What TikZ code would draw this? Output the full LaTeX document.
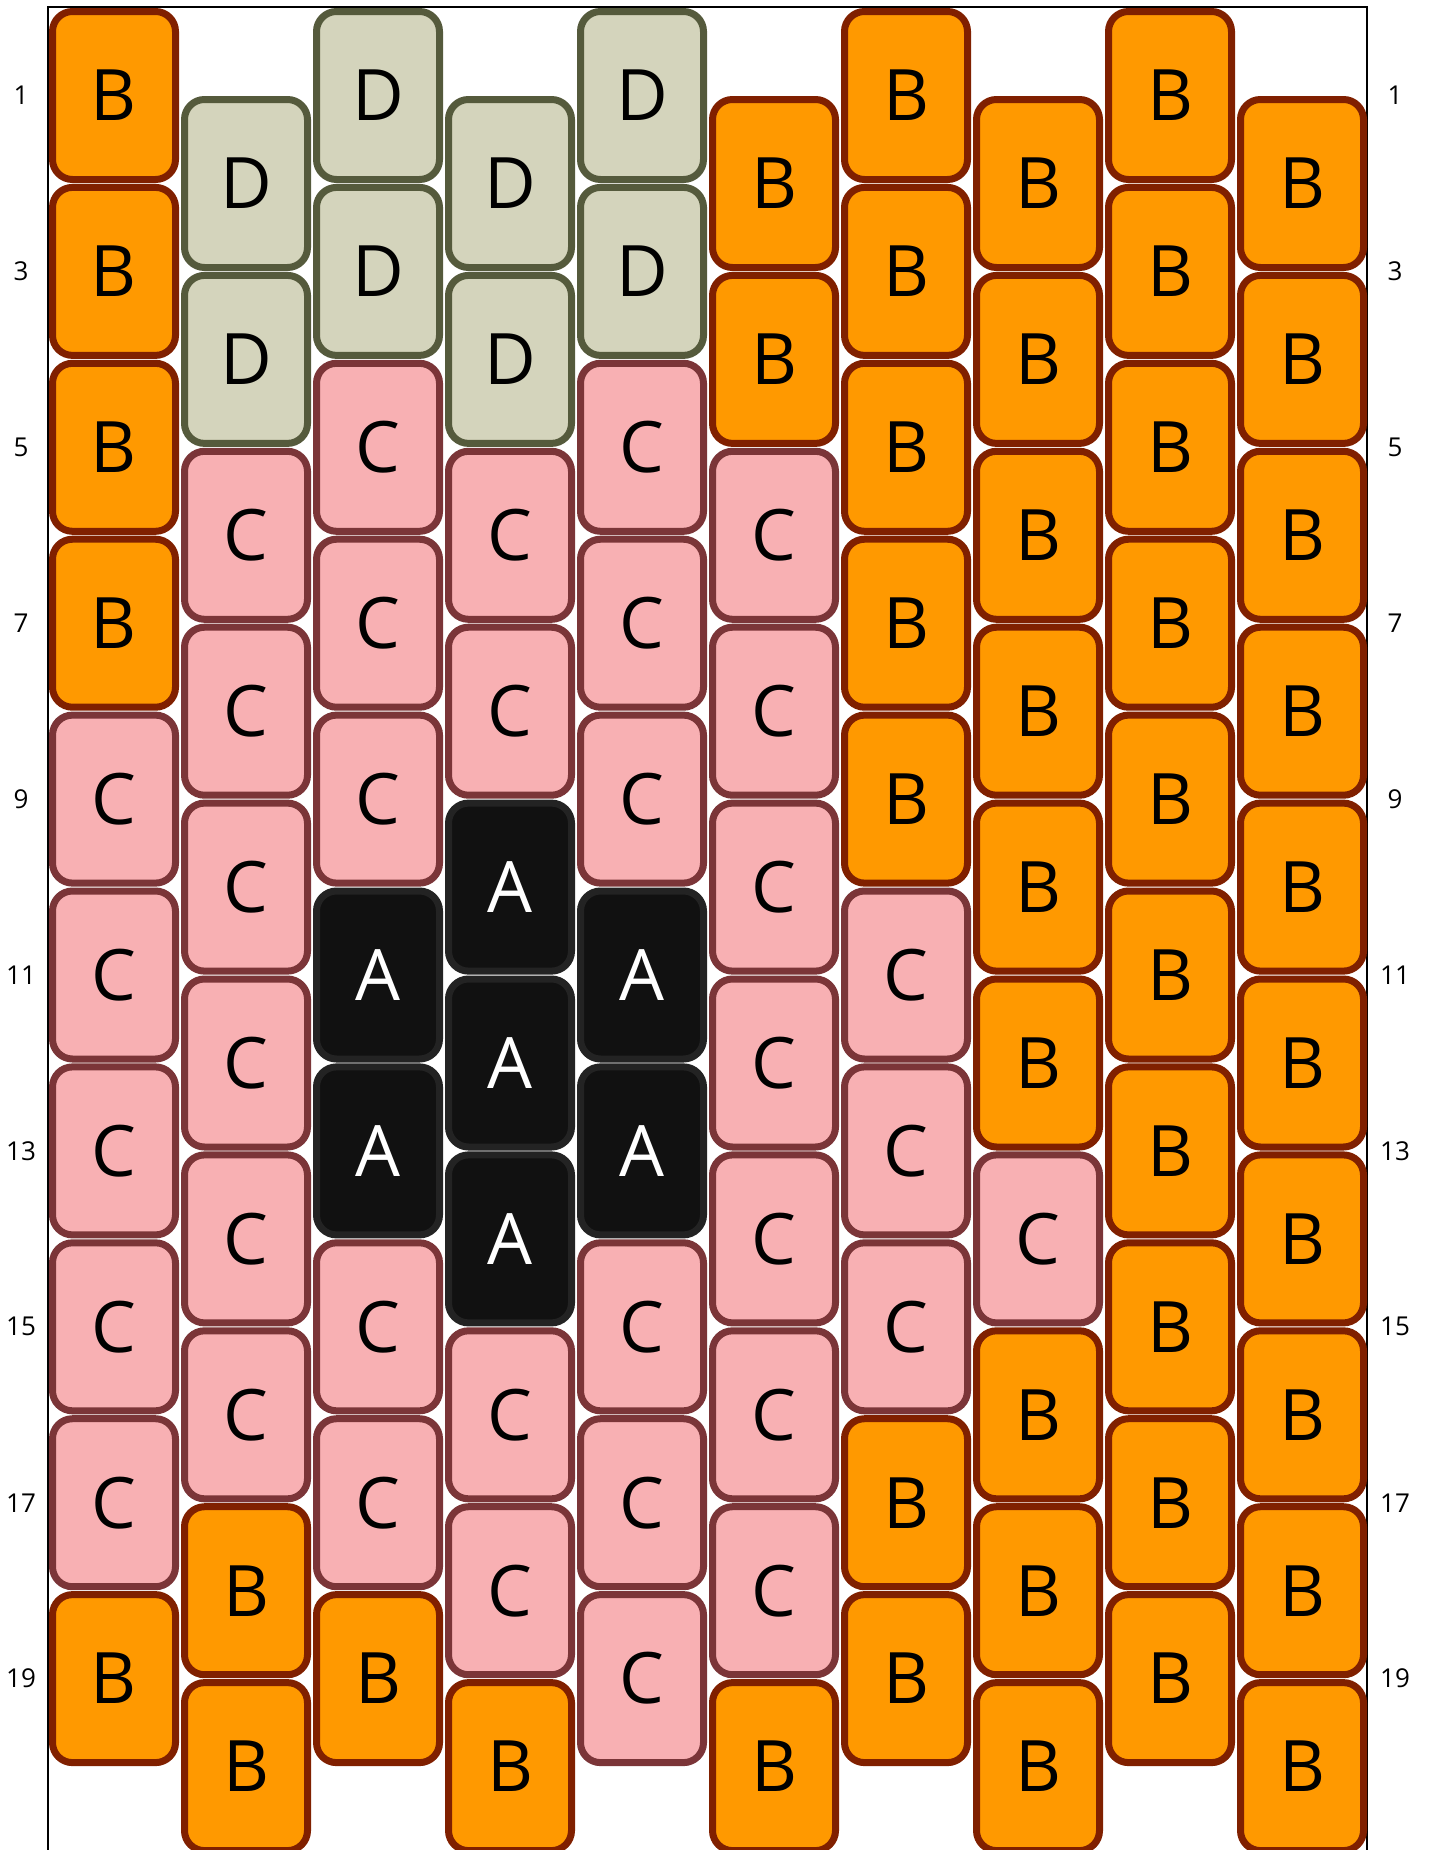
\documentclass[tikz,border=0pt]{standalone}
\usepackage{fontspec}
\setmainfont{Open Sans}
\definecolor{bFill}{HTML}{FF9900}
\definecolor{bLine}{HTML}{802000}
\definecolor{cFill}{HTML}{F8B0B3}
\definecolor{cLine}{HTML}{7B3538}
\definecolor{dFill}{HTML}{D4D4BC}
\definecolor{dLine}{HTML}{555A3C}
\definecolor{aFill}{HTML}{111111}
\definecolor{aLine}{HTML}{232323}
\tikzset{
  bead/.style={rounded corners=20pt, line width=7pt, minimum width=123pt, minimum height=168pt, inner sep=0pt, outer sep=0pt, font=\fontsize{71}{71}\selectfont},
  beadB/.style={fill=bFill, draw=bLine, text=black},
  beadC/.style={fill=cFill, draw=cLine, text=black},
  beadD/.style={fill=dFill, draw=dLine, text=black},
  beadA/.style={fill=aFill, draw=aLine, text=white},
  rowlabel/.style={font=\fontsize{26}{26}\selectfont, inner sep=0pt},
  frame/.style={draw=black, line width=2pt}
}
\begin{document}
\begin{tikzpicture}[x=1pt,y=-1pt]
\useasboundingbox (0,0) rectangle (1428,1850);
\clip (0,0) rectangle (1428,1850);
\draw[frame] (48,7) rectangle (1367,1950);
\foreach \c/\seq in {
  1/{B,B,B,B,C,C,C,C,C,B},
  2/{D,D,C,C,C,C,C,C,B,B},
  3/{D,D,C,C,C,A,A,C,C,B},
  4/{D,D,C,C,A,A,A,C,C,B},
  5/{D,D,C,C,C,A,A,C,C,C},
  6/{B,B,C,C,C,C,C,C,C,B},
  7/{B,B,B,B,B,C,C,C,B,B},
  8/{B,B,B,B,B,B,C,B,B,B},
  9/{B,B,B,B,B,B,B,B,B,B},
  10/{B,B,B,B,B,B,B,B,B,B}} {
  \foreach \t [count=\k from 0] in \seq {
    \pgfmathsetmacro{\xx}{114+(\c-1)*132}
    \pgfmathsetmacro{\off}{mod(\c,2)==0 ? 88 : 0}
    \pgfmathsetmacro{\yy}{95.5+\k*175.9+\off}
    \pgfmathtruncatemacro{\rn}{2*\k+1+(\off>0 ? 1 : 0)}
    \node[bead, bead\t] (b\c-\rn) at (\xx,\yy) {\t};
  }
}
\foreach \k in {0,...,9} {
  \pgfmathsetmacro{\yy}{95.5+\k*175.9}
  \pgfmathtruncatemacro{\lab}{2*\k+1}
  \node[rowlabel] (l\lab) at (21,\yy) {\lab};
  \node[rowlabel] (r\lab) at (1395,\yy) {\lab};
}
\end{tikzpicture}
\end{document}
